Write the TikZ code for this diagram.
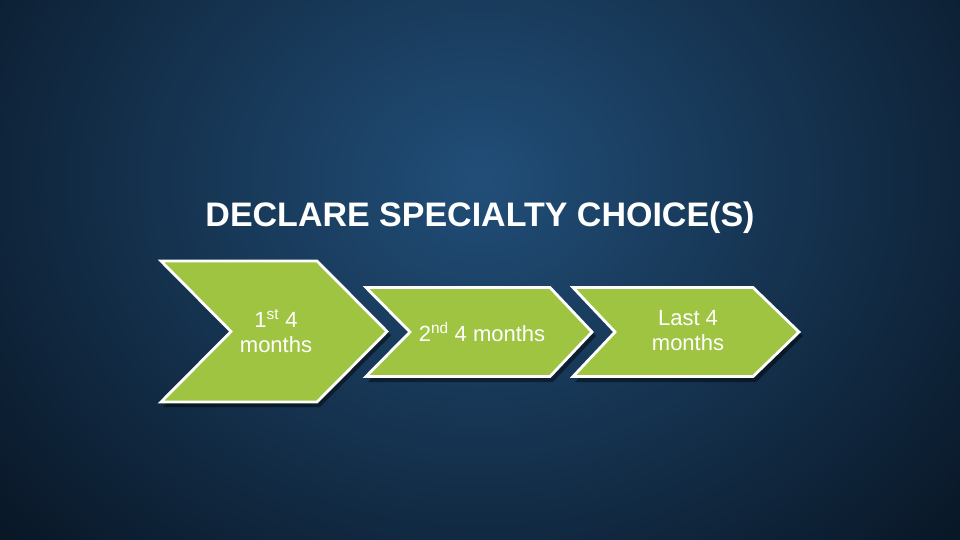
\documentclass[tikz,border=0pt]{standalone}
\usepackage{fontspec}
\setmainfont{Liberation Sans}

\definecolor{fondcentre}{RGB}{33,78,120}
\definecolor{fondbord}{RGB}{6,16,28}
\definecolor{vert}{RGB}{158,196,66}

\begin{document}
\begin{tikzpicture}[x=1pt,y=-1pt,
  etape/.style={draw=white, line width=2.8pt, fill=vert, line join=miter},
  ombre/.style={fill=black, opacity=0.45},
  texte/.style={text=white, font=\fontsize{22}{25}\selectfont, align=center}]
%Fond
\fill[fondbord] (0,0) rectangle (960,540);
\begin{scope}
\clip (0,0) rectangle (960,540);
\shade[inner color=fondcentre, outer color=fondbord] (480,180) ellipse (720 and 600);
\end{scope}
\useasboundingbox (0,0) rectangle (960,540);

%Titre
\node[text=white, font=\bfseries\fontsize{34}{38}\selectfont] (titre) at (480,218) {DECLARE SPECIALTY CHOICE(S)};

%Ombres
\fill[ombre] (163,264) -- (320,264) -- (391,335.5) -- (320,407) -- (163,407) -- (234,335.5) -- cycle;
\fill[ombre] (368,290) -- (553,290) -- (596,336) -- (553,382) -- (368,382) -- (413,336) -- cycle;
\fill[ombre] (575,290) -- (756,290) -- (803,336) -- (756,382) -- (575,382) -- (618,336) -- cycle;

%Etapes
\draw[etape] (161,261) -- (317,261) -- (387,331.5) -- (317,402) -- (161,402) -- (231,331.5) -- cycle;
\draw[etape] (366,287.5) -- (550,287.5) -- (592,332) -- (550,376.5) -- (366,376.5) -- (410,332) -- cycle;
\draw[etape] (573,287.5) -- (753,287.5) -- (799,332) -- (753,376.5) -- (573,376.5) -- (615,332) -- cycle;

%Textes
\node[texte] (t1) at (276,331) {1\textsuperscript{st} 4\\months};
\node[texte] (t2) at (482,332) {2\textsuperscript{nd} 4 months};
\node[texte] (t3) at (688,331) {Last 4\\months};
\end{tikzpicture}
\end{document}
